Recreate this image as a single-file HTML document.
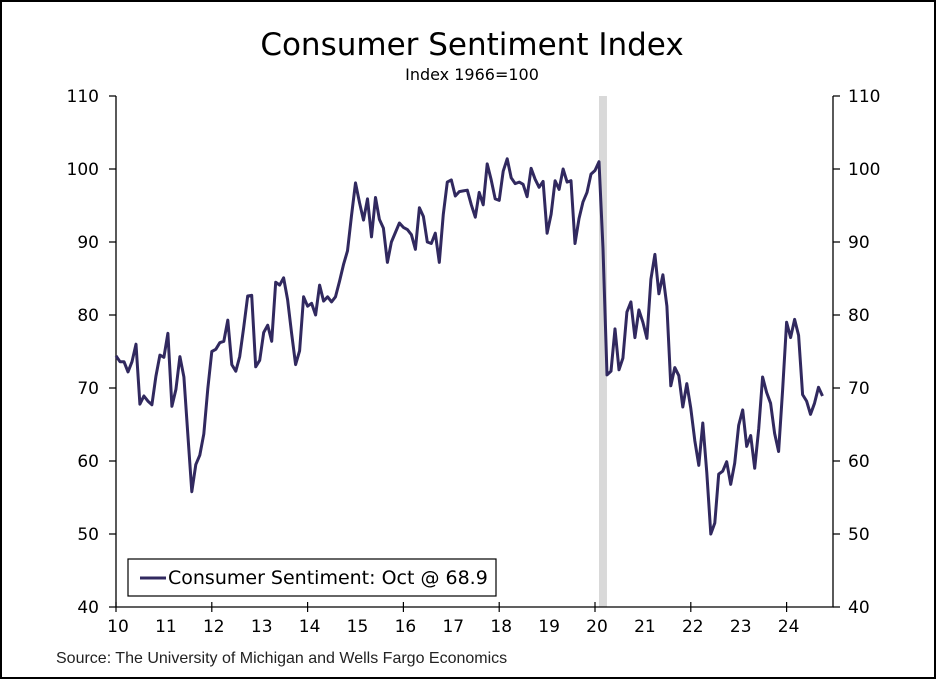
<!DOCTYPE html>
<html><head><meta charset="utf-8"><style>
html,body{margin:0;padding:0;background:#fff;}
svg{display:block;font-family:"DejaVu Sans","Liberation Sans",sans-serif;}
</style></head><body>
<svg id="chart" width="936" height="680" viewBox="0 0 936 680">
<rect x="1" y="1" width="934" height="677" fill="#fff" stroke="#000" stroke-width="2"/>
<text x="472" y="55" font-size="31" text-anchor="middle" fill="#000">Consumer Sentiment Index</text>
<text x="472" y="80" font-size="16" text-anchor="middle" fill="#000">Index 1966=100</text>
<g id="plot"></g>
<text x="56" y="663" font-size="16" fill="#222" font-family="Liberation Sans, sans-serif">Source: The University of Michigan and Wells Fargo Economics</text>
</svg>
<script>
const years = ["10","11","12","13","14","15","16","17","18","19","20","21","22","23","24"];
const yTicks = [40,50,60,70,80,90,100,110];
const recession = [2020+1/12, 2020+3/12];
const sentiment = [
74.4,73.6,73.6,72.2,73.6,76.0,67.8,68.9,68.2,67.7,71.6,74.5,
74.2,77.5,67.5,69.8,74.3,71.5,63.7,55.8,59.5,60.8,63.7,69.9,
75.0,75.3,76.2,76.4,79.3,73.2,72.3,74.3,78.3,82.6,82.7,72.9,
73.8,77.6,78.6,76.4,84.5,84.1,85.1,82.1,77.5,73.2,75.1,82.5,
81.2,81.6,80.0,84.1,81.9,82.5,81.8,82.5,84.6,86.9,88.8,93.6,
98.1,95.4,93.0,95.9,90.7,96.1,93.1,91.9,87.2,90.0,91.3,92.6,
92.0,91.7,91.0,89.0,94.7,93.5,90.0,89.8,91.2,87.2,93.8,98.2,
98.5,96.3,96.9,97.0,97.1,95.1,93.4,96.8,95.1,100.7,98.5,95.9,
95.7,99.7,101.4,98.8,98.0,98.2,97.9,96.2,100.1,98.6,97.5,98.3,
91.2,93.8,98.4,97.2,100.0,98.2,98.4,89.8,93.2,95.5,96.8,99.3,
99.8,101.0,89.1,71.8,72.3,78.1,72.5,74.1,80.4,81.8,76.9,80.7,
79.0,76.8,84.9,88.3,82.9,85.5,81.2,70.3,72.8,71.7,67.4,70.6,
67.2,62.8,59.4,65.2,58.4,50.0,51.5,58.2,58.6,59.9,56.8,59.7,
64.9,67.0,62.0,63.5,59.0,64.4,71.5,69.4,67.9,63.8,61.3,69.7,
79.0,76.9,79.4,77.2,69.1,68.2,66.4,67.9,70.1,68.9];

const NS="http://www.w3.org/2000/svg";
const L=116,R=833,T=96,B=607;
const xs=t=>L+(t-2010)*47.9;
const ys=v=>B-(v-40)/70*(B-T);
const g=document.getElementById('plot');
function mk(tag,attrs){const e=document.createElementNS(NS,tag);for(const k in attrs)e.setAttribute(k,attrs[k]);g.appendChild(e);return e;}

const rec=mk('rect',{x:xs(recession[0]),y:T,width:xs(recession[1])-xs(recession[0]),height:B-T,fill:'#d9d9d9'});



const ax=mk('path',{d:`M${L},${T}V${B}H${R}V${T}`,fill:'none',stroke:'#000','stroke-width':1.3});



yTicks.forEach(v=>{
  const y=ys(v);
  const t=mk('path',{d:`M${L-7},${y}H${L}M${R},${y}H${R+7}`,stroke:'#000','stroke-width':1.2});
  
  
  const a=mk('text',{x:L-17,y:y+6,'font-size':17,'text-anchor':'end'});a.textContent=v;
  
  
  const b=mk('text',{x:R+15,y:y+6,'font-size':17,'text-anchor':'start'});b.textContent=v;
  
  
});
years.forEach((yr,i)=>{
  const x=xs(2010+i);
  if(i%2===0){
    const t=mk('path',{d:`M${x},${B-5}V${B+5}`,stroke:'#000','stroke-width':1.2});
    
    
  }
  const l=mk('text',{x:x+2,y:B+25,'font-size':17,'text-anchor':'middle'});l.textContent=yr;
  
  
});

const pts=sentiment.map((v,i)=>`${xs(2010+i/12).toFixed(1)},${ys(v).toFixed(1)}`).join(' ');
const line=mk('polyline',{points:pts,fill:'none',stroke:'#31295f','stroke-width':3,'stroke-linejoin':'round'});



const lg=mk('rect',{x:128,y:559,width:368,height:37,fill:'#fff',stroke:'#000','stroke-width':1.2});


const ls=mk('path',{d:'M140,578H166',stroke:'#31295f','stroke-width':3});


const lt=mk('text',{x:168,y:584,'font-size':19});lt.textContent='Consumer Sentiment: Oct @ 68.9';


</script>
</body></html>
